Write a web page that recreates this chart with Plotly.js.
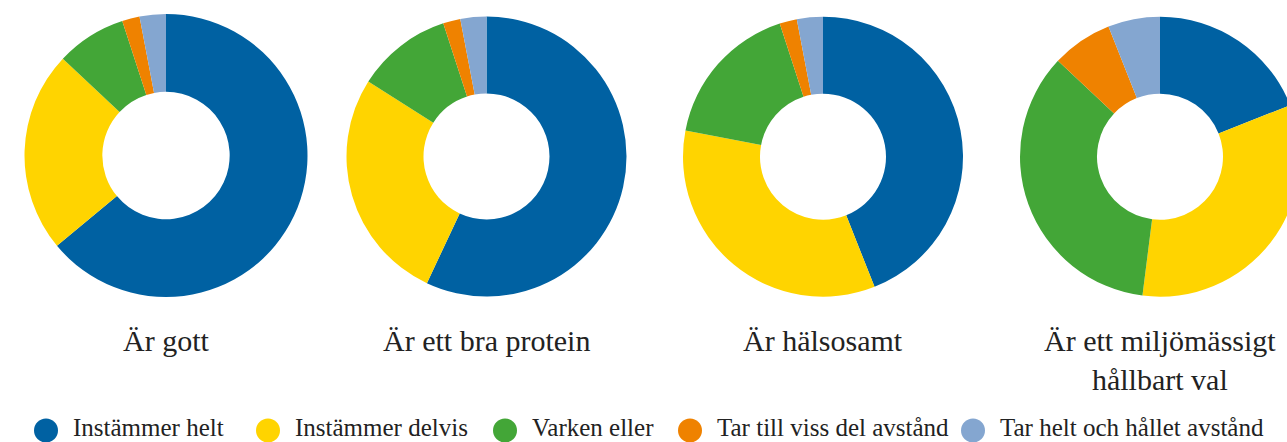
<!DOCTYPE html>
<html>
<head>
<meta charset="utf-8">
<script src="https://cdn.plot.ly/plotly-3.0.1.min.js"></script>
<style>
  html, body { margin: 0; padding: 0; overflow: hidden; background: #fff; }
  #chart { width: 1300px; height: 442px; }
</style>
</head>
<body>
<div id="chart"></div>
<script>
// ---- Data ----
var categories = ['Instämmer helt', 'Instämmer delvis', 'Varken eller', 'Tar till viss del avstånd', 'Tar helt och hållet avstånd'];
var statements = ['Är gott', 'Är ett bra protein', 'Är hälsosamt', 'Är ett miljömässigt<br>hållbart val'];
var arGott = [64, 23, 8, 2, 3];
var arBraProtein = [57, 27, 11, 2, 3];
var arHalsosamt = [44, 34, 17, 2, 3];
var arMiljo = [19, 33, 35, 7, 6];
var seriesValues = [arGott, arBraProtein, arHalsosamt, arMiljo];

// ---- Style / layout ----
var colors = ['#0061A2', '#FFD400', '#43A637', '#EF8200', '#84A6D0'];
var W = 1300, H = 442;
var FONT = 'Liberation Serif, Times New Roman, serif';
var TEXT = '#222222';
// donut centres (px) and radii
var centers = [[166, 155.5, 141.5], [486.5, 156.5, 140], [823, 156.7, 140], [1160, 156.7, 140]];
var titleY = 322;
var legendCx = [46, 268, 505, 690, 973];
var legendTextY = 427.5;
var legendDotY = 430.5;
var dotR = 12;

function px(x) { return x / W; }
function py(y) { return 1 - y / H; }

var traces = seriesValues.map(function (vals, i) {
  var c = centers[i];
  return {
    type: 'pie',
    values: vals,
    labels: categories,
    sort: false,
    direction: 'clockwise',
    rotation: 0,
    hole: 0.45,
    textinfo: 'none',
    hoverinfo: 'label+percent',
    marker: { colors: colors, line: { width: 0 } },
    showlegend: false,
    domain: {
      x: [Math.max(0, px(c[0] - c[2])), Math.min(1, px(c[0] + c[2]))],
      y: [Math.max(0, py(c[1] + c[2])), Math.min(1, py(c[1] - c[2]))]
    }
  };
});

var annotations = statements.map(function (s, i) {
  return {
    text: s, x: px(centers[i][0]), y: py(titleY), xref: 'paper', yref: 'paper',
    xanchor: 'center', yanchor: 'top', showarrow: false, align: 'center',
    font: { family: FONT, size: 30, color: TEXT }
  };
});
var shapes = [];
categories.forEach(function (cat, i) {
  shapes.push({
    type: 'circle', xref: 'paper', yref: 'paper',
    x0: px(legendCx[i] - dotR), x1: px(legendCx[i] + dotR),
    y0: py(legendDotY + dotR), y1: py(legendDotY - dotR),
    fillcolor: colors[i], line: { width: 0 }
  });
  annotations.push({
    text: cat, x: px(legendCx[i] + dotR + 13), y: py(legendTextY), xref: 'paper', yref: 'paper',
    xanchor: 'left', yanchor: 'middle', showarrow: false,
    font: { family: FONT, size: 25, color: TEXT }
  });
});

var layout = {
  width: W, height: H,
  margin: { l: 0, r: 0, t: 0, b: 0, pad: 0 },
  paper_bgcolor: '#ffffff',
  font: { family: FONT, color: TEXT },
  showlegend: false,
  annotations: annotations,
  shapes: shapes
};

Plotly.newPlot('chart', traces, layout, { displayModeBar: false, staticPlot: true });
</script>
</body>
</html>
